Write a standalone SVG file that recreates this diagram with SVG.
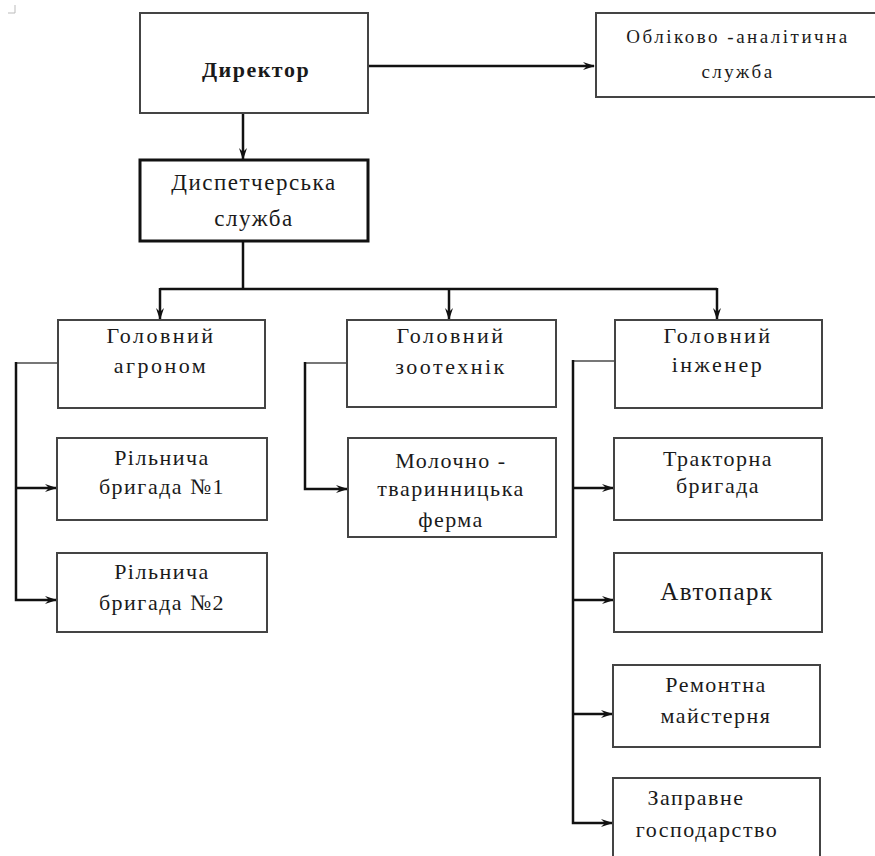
<svg xmlns="http://www.w3.org/2000/svg" width="875" height="856" viewBox="0 0 875 856">
<defs>
<marker id="ah" markerWidth="12" markerHeight="8" refX="11" refY="4" orient="auto" markerUnits="userSpaceOnUse">
<path d="M0,0 L12,4 L0,8 L4,4 z" fill="#111"/>
</marker>
<style>
.box{fill:#fff;stroke:#444;stroke-width:2}
.bold{stroke:#111;stroke-width:3}
.t{font-family:"Liberation Serif","DejaVu Serif",serif;font-size:22px;fill:#1a1a1a;text-anchor:middle;letter-spacing:1.5px}
.c{fill:none;stroke:#111;stroke-width:2.5}
.g{fill:none;stroke:#777;stroke-width:2}
</style>
</defs>
<rect width="875" height="856" fill="#fff"/>
<path d="M8,13 H15 V5" fill="none" stroke="#bbb" stroke-width="1"/>

<g id="connectors">
<line class="c" x1="368" y1="66" x2="594" y2="66" marker-end="url(#ah)"/>
<line class="c" x1="243" y1="113" x2="243" y2="159" marker-end="url(#ah)"/>
<line class="c" x1="243" y1="241" x2="243" y2="289"/>
<line class="c" x1="160" y1="289" x2="717" y2="289"/>
<line class="c" x1="160" y1="288" x2="160" y2="319" marker-end="url(#ah)"/>
<line class="c" x1="449" y1="288" x2="449" y2="319" marker-end="url(#ah)"/>
<line class="c" x1="717" y1="288" x2="717" y2="319" marker-end="url(#ah)"/>
<line class="g" x1="58" y1="363" x2="16" y2="363"/>
<polyline class="c" points="16,362 16,600 56,600" marker-end="url(#ah)"/>
<line class="c" x1="16" y1="488" x2="56" y2="488" marker-end="url(#ah)"/>
<line class="g" x1="347" y1="363" x2="305" y2="363"/>
<polyline class="c" points="305,362 305,489 347,489" marker-end="url(#ah)"/>
<line class="g" x1="615" y1="361" x2="573" y2="361"/>
<polyline class="c" points="573,360 573,823 612,823" marker-end="url(#ah)"/>
<line class="c" x1="573" y1="488" x2="613" y2="488" marker-end="url(#ah)"/>
<line class="c" x1="573" y1="600" x2="613" y2="600" marker-end="url(#ah)"/>
<line class="c" x1="573" y1="714" x2="612" y2="714" marker-end="url(#ah)"/>
</g>

<g id="director">
<rect class="box" x="140" y="13" width="228" height="100"/>
<text class="t" x="256" y="77" style="font-weight:bold;font-size:22px">Директор</text>
</g>
<g id="oblik">
<rect class="box" x="596" y="13" width="290" height="84"/>
<text class="t" x="738" y="43" style="font-size:19px;letter-spacing:2.5px">Обліково -аналітична</text>
<text class="t" x="738" y="78" style="font-size:19px;letter-spacing:2.5px">служба</text>
</g>
<g id="dispatch">
<rect class="box bold" x="140" y="160" width="228" height="81"/>
<text class="t" x="254" y="190" style="font-size:23px">Диспетчерська</text>
<text class="t" x="254" y="226" style="font-size:23px">служба</text>
</g>
<g id="agronom">
<rect class="box" x="58" y="320" width="207" height="88"/>
<text class="t" x="161" y="343" style="letter-spacing:2.5px">Головний</text>
<text class="t" x="161" y="373" style="letter-spacing:2.5px">агроном</text>
</g>
<g id="brigade1">
<rect class="box" x="57" y="438" width="210" height="82"/>
<text class="t" x="162" y="465">Рільнича</text>
<text class="t" x="162" y="494">бригада №1</text>
</g>
<g id="brigade2">
<rect class="box" x="57" y="553" width="210" height="79"/>
<text class="t" x="162" y="579">Рільнича</text>
<text class="t" x="162" y="610">бригада №2</text>
</g>
<g id="zootech">
<rect class="box" x="347" y="320" width="209" height="87"/>
<text class="t" x="451" y="343" style="letter-spacing:2.5px">Головний</text>
<text class="t" x="451" y="374" style="letter-spacing:2.5px">зоотехнік</text>
</g>
<g id="ferma">
<rect class="box" x="348" y="438" width="208" height="99"/>
<text class="t" x="451" y="468">Молочно -</text>
<text class="t" x="451" y="496">тваринницька</text>
<text class="t" x="451" y="527">ферма</text>
</g>
<g id="engineer">
<rect class="box" x="615" y="320" width="207" height="88"/>
<text class="t" x="718" y="343" style="letter-spacing:2.5px">Головний</text>
<text class="t" x="718" y="372" style="letter-spacing:2.5px">інженер</text>
</g>
<g id="tractor">
<rect class="box" x="614" y="438" width="208" height="82"/>
<text class="t" x="718" y="466">Тракторна</text>
<text class="t" x="718" y="493">бригада</text>
</g>
<g id="autopark">
<rect class="box" x="614" y="553" width="208" height="79"/>
<text class="t" x="717" y="600" style="font-size:25px">Автопарк</text>
</g>
<g id="repair">
<rect class="box" x="613" y="665" width="207" height="82"/>
<text class="t" x="716" y="692">Ремонтна</text>
<text class="t" x="716" y="723">майстерня</text>
</g>
<g id="fuel">
<rect class="box" x="613" y="778" width="207" height="90"/>
<text class="t" x="696" y="805">Заправне</text>
<text class="t" x="707" y="837">господарство</text>
</g>
</svg>
